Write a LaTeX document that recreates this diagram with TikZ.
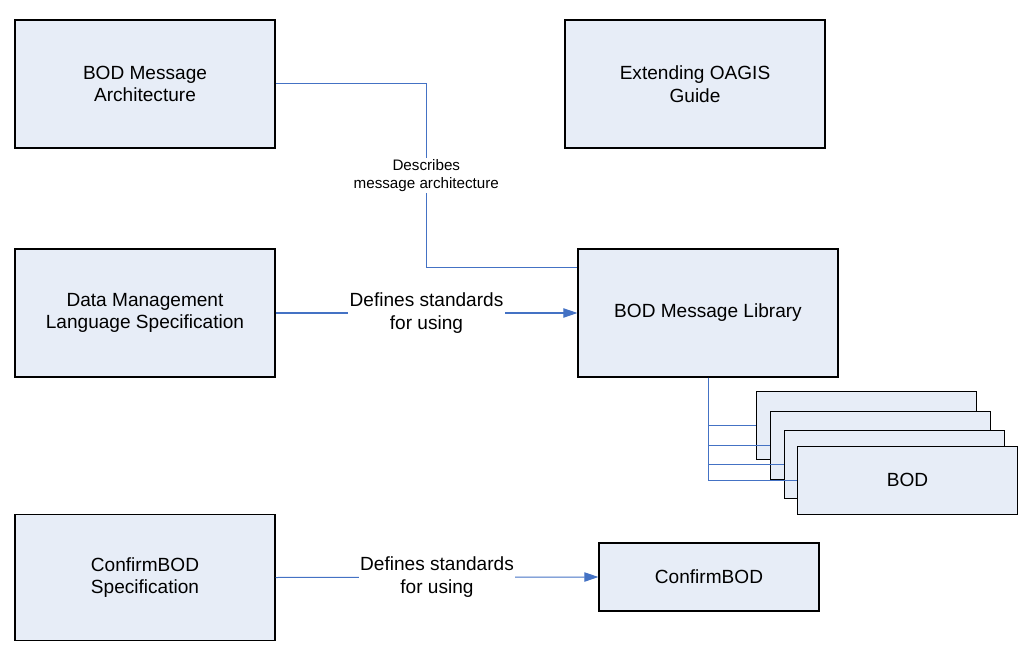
\documentclass[tikz,border=0pt]{standalone}
\usepackage{fontspec}
\setmainfont{Liberation Sans}
\usetikzlibrary{arrows.meta}
\definecolor{boxfill}{RGB}{231,237,247}
\definecolor{linkblue}{RGB}{68,114,196}

\begin{document}
\begin{tikzpicture}[x=0.75pt,y=-0.75pt,
        doc/.style={draw=black,line width=0.9pt,fill=boxfill,align=center,
            minimum width=195pt,minimum height=96pt,inner sep=0pt,
            font=\fontsize{14.3}{17}\selectfont},
        item/.style={doc,minimum width=165pt,minimum height=51pt},
        link/.style={draw=linkblue,line width=0.75pt},
        arrow/.style={link,-{Triangle[length=10.5pt,width=7pt]}},
        bigtag/.style={fill=white,inner sep=1pt,align=center,
            font=\fontsize{14.3}{17}\selectfont},
        smalltag/.style={fill=white,inner sep=1pt,align=center,
            font=\fontsize{11.4}{13.5}\selectfont}]
            \useasboundingbox (0,0) rectangle (1035,659);

            % documents
            \node[doc] (arch) at (145,84) {BOD Message\\Architecture};
            \node[doc] (ext) at (695,84) {Extending OAGIS\\Guide};
            \node[doc] (dml) at (145,313) {Data Management\\Language Specification};
            \node[doc] (lib) at (708,313) {BOD Message Library};
            \node[doc,minimum height=95pt] (conf) at (145,577.5) {ConfirmBOD\\Specification};
            \node[item] (cbod) at (709,577) {ConfirmBOD};

            % stack of BODs
            \node[item] (bod1) at (866.3,425.3) {};
            \node[item] (bod2) at (880.3,445.7) {};
            \node[item] (bod3) at (894.3,464.8) {};
            \node[item] (bod4) at (907.5,480.3) {BOD};

            \foreach \i in {1,...,4}{
                \draw[link] (lib.south) |- (bod\i.west);
            }

            % relations
            \coordinate (bend) at (426.3,267.3);
            \draw[link] (arch.east) -| node[pos=0.75,smalltag]{Describes\\message architecture} (bend) -- (bend -| lib.west);
            \draw[arrow] (dml.east) -- node[bigtag]{Defines standards\\for using} (lib.west);
            \draw[arrow] (conf.east) -- node[bigtag]{Defines standards\\for using} (cbod.west);
        \end{tikzpicture}
\end{document}
